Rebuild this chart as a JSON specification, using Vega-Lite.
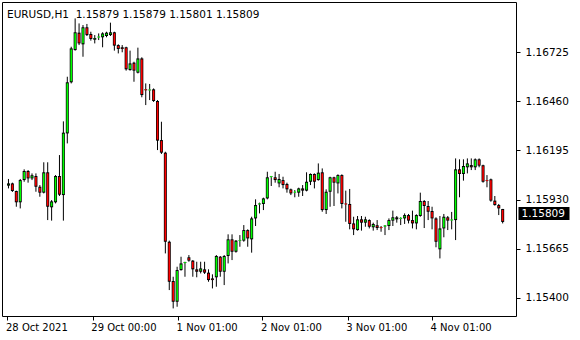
{
  "$schema": "https://vega.github.io/schema/vega-lite/v6.json",
  "width": 514,
  "height": 314,
  "autosize": "none",
  "padding": {"left": 2, "top": 2, "right": 64, "bottom": 24},
  "background": "white",
  "config": {
    "view": {"stroke": "black", "strokeWidth": 1},
    "axis": {"grid": false, "domain": false, "labelFont": "DejaVu Sans", "labelColor": "black", "tickColor": "black", "title": null}
  },
  "title": {
    "text": "EURUSD,H1\u00a0\u00a01.15879 1.15879 1.15801 1.15809",
    "anchor": "start",
    "frame": "group",
    "offset": -15,
    "baseline": "alphabetic",
    "dx": 5,
    "dy": 11,
    "font": "DejaVu Sans",
    "fontSize": 10.5,
    "fontWeight": "normal",
    "color": "black"
  },
  "data": {"values": [
    {"i":0,"o":1.16005,"h":1.16041,"l":1.15990,"c":1.16017},
    {"i":1,"o":1.16017,"h":1.16021,"l":1.15971,"c":1.15976},
    {"i":2,"o":1.15976,"h":1.15978,"l":1.15891,"c":1.15915},
    {"i":3,"o":1.15915,"h":1.16041,"l":1.15882,"c":1.16035},
    {"i":4,"o":1.16035,"h":1.16093,"l":1.16026,"c":1.16084},
    {"i":5,"o":1.16084,"h":1.16089,"l":1.16021,"c":1.16044},
    {"i":6,"o":1.16044,"h":1.16071,"l":1.16035,"c":1.16061},
    {"i":7,"o":1.16057,"h":1.16071,"l":1.15972,"c":1.15999},
    {"i":8,"o":1.15999,"h":1.16008,"l":1.15945,"c":1.15967},
    {"i":9,"o":1.15967,"h":1.16131,"l":1.15963,"c":1.16077},
    {"i":10,"o":1.16077,"h":1.16131,"l":1.15819,"c":1.15891},
    {"i":11,"o":1.15888,"h":1.15927,"l":1.15816,"c":1.15920},
    {"i":12,"o":1.15915,"h":1.16062,"l":1.15909,"c":1.16057},
    {"i":13,"o":1.16057,"h":1.16170,"l":1.15949,"c":1.15956},
    {"i":14,"o":1.15954,"h":1.16352,"l":1.15816,"c":1.16291},
    {"i":15,"o":1.16287,"h":1.16593,"l":1.16233,"c":1.16563},
    {"i":16,"o":1.16563,"h":1.16755,"l":1.16557,"c":1.16746},
    {"i":17,"o":1.16737,"h":1.16908,"l":1.16734,"c":1.16833},
    {"i":18,"o":1.16831,"h":1.16881,"l":1.16764,"c":1.16773},
    {"i":19,"o":1.16768,"h":1.16872,"l":1.16701,"c":1.16860},
    {"i":20,"o":1.16860,"h":1.16878,"l":1.16813,"c":1.16818},
    {"i":21,"o":1.16824,"h":1.16836,"l":1.16788,"c":1.16797},
    {"i":22,"o":1.16793,"h":1.16818,"l":1.16773,"c":1.16802},
    {"i":23,"o":1.16806,"h":1.16827,"l":1.16791,"c":1.16809},
    {"i":24,"o":1.16806,"h":1.16833,"l":1.16752,"c":1.16827},
    {"i":25,"o":1.16813,"h":1.16836,"l":1.16806,"c":1.16831},
    {"i":26,"o":1.16818,"h":1.16885,"l":1.16813,"c":1.16833},
    {"i":27,"o":1.16833,"h":1.16836,"l":1.16734,"c":1.16761},
    {"i":28,"o":1.16764,"h":1.16768,"l":1.16719,"c":1.16743},
    {"i":29,"o":1.16752,"h":1.16764,"l":1.16725,"c":1.16743},
    {"i":30,"o":1.16752,"h":1.16755,"l":1.16626,"c":1.16633},
    {"i":31,"o":1.16629,"h":1.16734,"l":1.16626,"c":1.16665},
    {"i":32,"o":1.16669,"h":1.16674,"l":1.16566,"c":1.16626},
    {"i":33,"o":1.16615,"h":1.16750,"l":1.16611,"c":1.16692},
    {"i":34,"o":1.16692,"h":1.16698,"l":1.16482,"c":1.16494},
    {"i":35,"o":1.16525,"h":1.16557,"l":1.16440,"c":1.16520},
    {"i":36,"o":1.16520,"h":1.16554,"l":1.16467,"c":1.16523},
    {"i":37,"o":1.16525,"h":1.16530,"l":1.16457,"c":1.16462},
    {"i":38,"o":1.16462,"h":1.16467,"l":1.16197,"c":1.16248},
    {"i":39,"o":1.16251,"h":1.16350,"l":1.16176,"c":1.16183},
    {"i":40,"o":1.16183,"h":1.16188,"l":1.15639,"c":1.15702},
    {"i":41,"o":1.15702,"h":1.15708,"l":1.15441,"c":1.15486},
    {"i":42,"o":1.15490,"h":1.15513,"l":1.15342,"c":1.15378},
    {"i":43,"o":1.15378,"h":1.15567,"l":1.15351,"c":1.15549},
    {"i":44,"o":1.15549,"h":1.15621,"l":1.15546,"c":1.15585},
    {"i":45,"o":1.15587,"h":1.15594,"l":1.15513,"c":1.15591},
    {"i":46,"o":1.15618,"h":1.15630,"l":1.15594,"c":1.15600},
    {"i":47,"o":1.15600,"h":1.15603,"l":1.15513,"c":1.15553},
    {"i":48,"o":1.15553,"h":1.15594,"l":1.15510,"c":1.15540},
    {"i":49,"o":1.15540,"h":1.15594,"l":1.15531,"c":1.15558},
    {"i":50,"o":1.15553,"h":1.15594,"l":1.15528,"c":1.15535},
    {"i":51,"o":1.15535,"h":1.15553,"l":1.15486,"c":1.15495},
    {"i":52,"o":1.15504,"h":1.15526,"l":1.15450,"c":1.15495},
    {"i":53,"o":1.15510,"h":1.15630,"l":1.15459,"c":1.15625},
    {"i":54,"o":1.15621,"h":1.15625,"l":1.15513,"c":1.15540},
    {"i":55,"o":1.15540,"h":1.15630,"l":1.15468,"c":1.15625},
    {"i":56,"o":1.15625,"h":1.15742,"l":1.15585,"c":1.15715},
    {"i":57,"o":1.15715,"h":1.15742,"l":1.15603,"c":1.15648},
    {"i":58,"o":1.15648,"h":1.15711,"l":1.15643,"c":1.15708},
    {"i":59,"o":1.15708,"h":1.15738,"l":1.15675,"c":1.15711},
    {"i":60,"o":1.15708,"h":1.15792,"l":1.15702,"c":1.15765},
    {"i":61,"o":1.15765,"h":1.15769,"l":1.15675,"c":1.15720},
    {"i":62,"o":1.15715,"h":1.15837,"l":1.15643,"c":1.15828},
    {"i":63,"o":1.15828,"h":1.15931,"l":1.15787,"c":1.15900},
    {"i":64,"o":1.15904,"h":1.15913,"l":1.15855,"c":1.15908},
    {"i":65,"o":1.15906,"h":1.15940,"l":1.15873,"c":1.15936},
    {"i":66,"o":1.15936,"h":1.16080,"l":1.15931,"c":1.16050},
    {"i":67,"o":1.16052,"h":1.16057,"l":1.16003,"c":1.16055},
    {"i":68,"o":1.16050,"h":1.16080,"l":1.16021,"c":1.16035},
    {"i":69,"o":1.16017,"h":1.16068,"l":1.15996,"c":1.16041},
    {"i":70,"o":1.16035,"h":1.16053,"l":1.15990,"c":1.16008},
    {"i":71,"o":1.16014,"h":1.16021,"l":1.15967,"c":1.15985},
    {"i":72,"o":1.15985,"h":1.15989,"l":1.15954,"c":1.15963},
    {"i":73,"o":1.15969,"h":1.15981,"l":1.15942,"c":1.15971},
    {"i":74,"o":1.15967,"h":1.15994,"l":1.15945,"c":1.15990},
    {"i":75,"o":1.15990,"h":1.16008,"l":1.15949,"c":1.15978},
    {"i":76,"o":1.15978,"h":1.16077,"l":1.15974,"c":1.16026},
    {"i":77,"o":1.16026,"h":1.16071,"l":1.16008,"c":1.16068},
    {"i":78,"o":1.16068,"h":1.16071,"l":1.15990,"c":1.16026},
    {"i":79,"o":1.16035,"h":1.16125,"l":1.16032,"c":1.16075},
    {"i":80,"o":1.16077,"h":1.16098,"l":1.15864,"c":1.15873},
    {"i":81,"o":1.15873,"h":1.15985,"l":1.15852,"c":1.15972},
    {"i":82,"o":1.15972,"h":1.16053,"l":1.15891,"c":1.16050},
    {"i":83,"o":1.16050,"h":1.16053,"l":1.15895,"c":1.16021},
    {"i":84,"o":1.16017,"h":1.16066,"l":1.15963,"c":1.16062},
    {"i":85,"o":1.16062,"h":1.16066,"l":1.15882,"c":1.15906},
    {"i":86,"o":1.15908,"h":1.15978,"l":1.15810,"c":1.15904},
    {"i":87,"o":1.15906,"h":1.15987,"l":1.15769,"c":1.15798},
    {"i":88,"o":1.15801,"h":1.15837,"l":1.15738,"c":1.15769},
    {"i":89,"o":1.15765,"h":1.15841,"l":1.15762,"c":1.15823},
    {"i":90,"o":1.15823,"h":1.15841,"l":1.15762,"c":1.15805},
    {"i":91,"o":1.15805,"h":1.15837,"l":1.15783,"c":1.15823},
    {"i":92,"o":1.15819,"h":1.15823,"l":1.15774,"c":1.15783},
    {"i":93,"o":1.15780,"h":1.15805,"l":1.15762,"c":1.15798},
    {"i":94,"o":1.15791,"h":1.15819,"l":1.15765,"c":1.15776},
    {"i":95,"o":1.15780,"h":1.15787,"l":1.15756,"c":1.15776},
    {"i":96,"o":1.15785,"h":1.15791,"l":1.15738,"c":1.15789},
    {"i":97,"o":1.15787,"h":1.15828,"l":1.15765,"c":1.15819},
    {"i":98,"o":1.15816,"h":1.15870,"l":1.15787,"c":1.15834},
    {"i":99,"o":1.15834,"h":1.15841,"l":1.15805,"c":1.15823},
    {"i":100,"o":1.15827,"h":1.15834,"l":1.15792,"c":1.15830},
    {"i":101,"o":1.15828,"h":1.15855,"l":1.15798,"c":1.15846},
    {"i":102,"o":1.15846,"h":1.15852,"l":1.15801,"c":1.15816},
    {"i":103,"o":1.15819,"h":1.15870,"l":1.15774,"c":1.15801},
    {"i":104,"o":1.15801,"h":1.15850,"l":1.15769,"c":1.15846},
    {"i":105,"o":1.15841,"h":1.15967,"l":1.15837,"c":1.15922},
    {"i":106,"o":1.15922,"h":1.15927,"l":1.15776,"c":1.15895},
    {"i":107,"o":1.15895,"h":1.15922,"l":1.15819,"c":1.15864},
    {"i":108,"o":1.15868,"h":1.15891,"l":1.15769,"c":1.15828},
    {"i":109,"o":1.15828,"h":1.15834,"l":1.15672,"c":1.15702},
    {"i":110,"o":1.15661,"h":1.15841,"l":1.15612,"c":1.15774},
    {"i":111,"o":1.15774,"h":1.15852,"l":1.15726,"c":1.15837},
    {"i":112,"o":1.15834,"h":1.15841,"l":1.15765,"c":1.15816},
    {"i":113,"o":1.15818,"h":1.15863,"l":1.15769,"c":1.15821},
    {"i":114,"o":1.15819,"h":1.16152,"l":1.15711,"c":1.16093},
    {"i":115,"o":1.16093,"h":1.16147,"l":1.15942,"c":1.16068},
    {"i":116,"o":1.16068,"h":1.16147,"l":1.16032,"c":1.16111},
    {"i":117,"o":1.16104,"h":1.16152,"l":1.16071,"c":1.16125},
    {"i":118,"o":1.16116,"h":1.16152,"l":1.16089,"c":1.16104},
    {"i":119,"o":1.16104,"h":1.16152,"l":1.16089,"c":1.16147},
    {"i":120,"o":1.16147,"h":1.16152,"l":1.16104,"c":1.16113},
    {"i":121,"o":1.16115,"h":1.16118,"l":1.16021,"c":1.16026},
    {"i":122,"o":1.16034,"h":1.16062,"l":1.15996,"c":1.16030},
    {"i":123,"o":1.16039,"h":1.16043,"l":1.15918,"c":1.15924},
    {"i":124,"o":1.15924,"h":1.15949,"l":1.15897,"c":1.15900},
    {"i":125,"o":1.15900,"h":1.15906,"l":1.15846,"c":1.15882},
    {"i":126,"o":1.15879,"h":1.15879,"l":1.15801,"c":1.15809}
  ]},
  "encoding": {
    "x": {
      "field": "i",
      "type": "quantitative",
      "scale": {"domain": [-0.375, 128.125], "nice": false, "zero": false},
      "axis": {
        "values": [-0.25, 21.5, 43.25, 64.75, 86.5, 108],
        "labelExpr": "datum.value < 10 ? '28 Oct 2021' : datum.value < 30 ? '29 Oct 00:00' : datum.value < 50 ? '1 Nov 01:00' : datum.value < 70 ? '2 Nov 01:00' : datum.value < 95 ? '3 Nov 01:00' : '4 Nov 01:00'",
        "labelAlign": "left",
        "labelBaseline": "top",
        "labelFontSize": 10,
        "labelOffset": -2,
        "tickSize": 4,
        "labelPadding": 2,
        "labelOverlap": false,
        "labelFlush": false,
        "labelBound": false
      }
    }
  },
  "layer": [
    {
      "mark": {"type": "rule", "color": "black", "strokeWidth": 1},
      "encoding": {
        "y": {
          "field": "l",
          "type": "quantitative",
          "scale": {"domain": [1.15301, 1.169966], "nice": false, "zero": false},
          "axis": {
            "orient": "right",
            "values": [1.154, 1.15665, 1.1593, 1.16195, 1.1646, 1.16725],
            "format": ".5f",
            "tickSize": 4,
            "labelPadding": 5,
            "labelFontSize": 10.5
          }
        },
        "y2": {"field": "h"}
      }
    },
    {
      "mark": {"type": "bar", "width": 3, "color": "black"},
      "encoding": {
        "y": {
          "field": "o",
          "type": "quantitative",
          "axis": {
            "orient": "right",
            "values": [1.15855],
            "labelExpr": "'1.15809'",
            "tickSize": 51,
            "tickWidth": 13,
            "offset": 2,
            "labelPadding": -48,
            "labelColor": "white",
            "labelFontSize": 10.5,
            "labelBaseline": "middle"
          }
        },
        "y2": {"field": "c"}
      }
    },
    {
      "transform": [{"filter": "datum.c >= datum.o"}],
      "mark": {"type": "bar", "width": 1.6, "color": "#00ff00", "yOffset": -1, "y2Offset": 1},
      "encoding": {
        "y": {"field": "o", "type": "quantitative", "axis": null},
        "y2": {"field": "c"}
      }
    },
    {
      "transform": [{"filter": "datum.c < datum.o"}],
      "mark": {"type": "bar", "width": 1.6, "color": "#ff0000", "yOffset": 1, "y2Offset": -1},
      "encoding": {
        "y": {"field": "o", "type": "quantitative", "axis": null},
        "y2": {"field": "c"}
      }
    }
  ],
  "resolve": {"axis": {"y": "independent"}}
}
